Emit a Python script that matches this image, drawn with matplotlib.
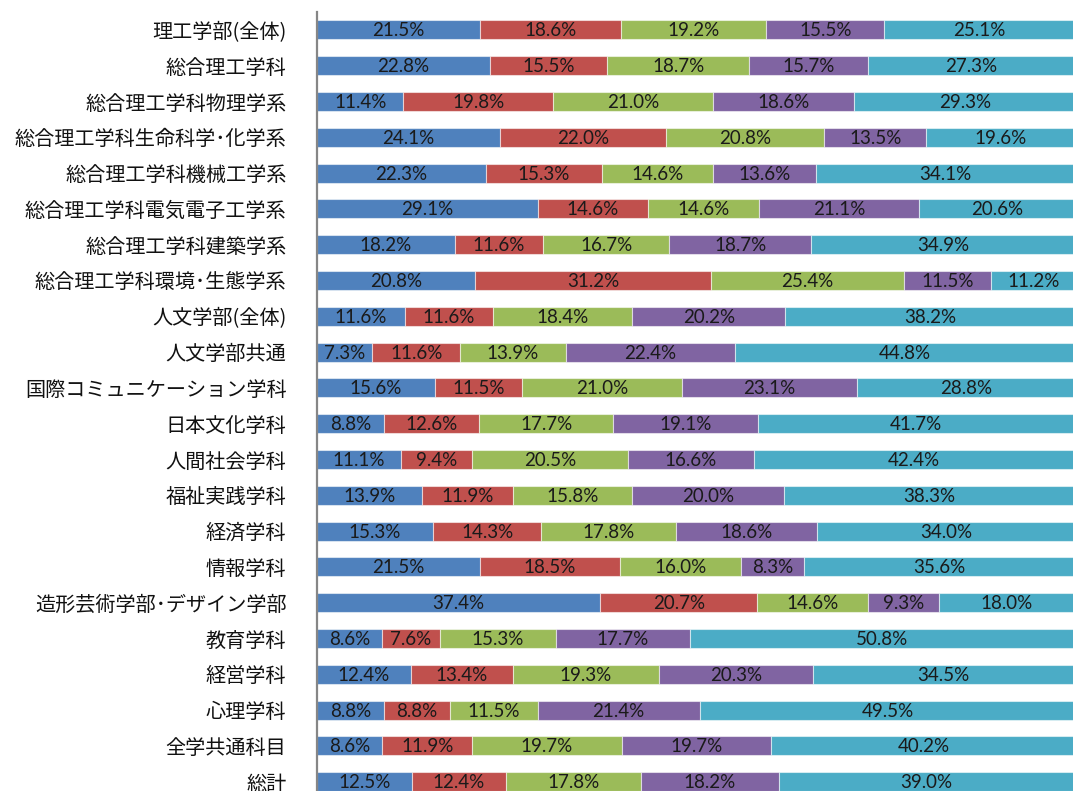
import matplotlib
matplotlib.use("Agg")
import matplotlib.pyplot as plt
import numpy as np

categories = [
    "理工学部(全体)", "総合理工学科", "総合理工学科物理学系", "総合理工学科生命科学･化学系",
    "総合理工学科機械工学系", "総合理工学科電気電子工学系", "総合理工学科建築学系",
    "総合理工学科環境･生態学系", "人文学部(全体)", "人文学部共通", "国際コミュニケーション学科",
    "日本文化学科", "人間社会学科", "福祉実践学科", "経済学科", "情報学科",
    "造形芸術学部･デザイン学部", "教育学科", "経営学科", "心理学科", "全学共通科目", "総計",
]

series_1 = [21.5, 22.8, 11.4, 24.1, 22.3, 29.1, 18.2, 20.8, 11.6, 7.3, 15.6,
            8.8, 11.1, 13.9, 15.3, 21.5, 37.4, 8.6, 12.4, 8.8, 8.6, 12.5]
series_2 = [18.6, 15.5, 19.8, 22.0, 15.3, 14.6, 11.6, 31.2, 11.6, 11.6, 11.5,
            12.6, 9.4, 11.9, 14.3, 18.5, 20.7, 7.6, 13.4, 8.8, 11.9, 12.4]
series_3 = [19.2, 18.7, 21.0, 20.8, 14.6, 14.6, 16.7, 25.4, 18.4, 13.9, 21.0,
            17.7, 20.5, 15.8, 17.8, 16.0, 14.6, 15.3, 19.3, 11.5, 19.7, 17.8]
series_4 = [15.5, 15.7, 18.6, 13.5, 13.6, 21.1, 18.7, 11.5, 20.2, 22.4, 23.1,
            19.1, 16.6, 20.0, 18.6, 8.3, 9.3, 17.7, 20.3, 21.4, 19.7, 18.2]
series_5 = [25.1, 27.3, 29.3, 19.6, 34.1, 20.6, 34.9, 11.2, 38.2, 44.8, 28.8,
            41.7, 42.4, 38.3, 34.0, 35.6, 18.0, 50.8, 34.5, 49.5, 40.2, 39.0]

colors = ["#4F81BD", "#C0504D", "#9BBB59", "#8064A2", "#4BACC6"]

W, H, DPI = 1073, 791, 100
fig = plt.figure(figsize=(W / DPI, H / DPI), dpi=DPI)
fig.patch.set_facecolor("white")

# plot area: top at 12px, one band of ~35.8px per category
left_px, top_px, band_px = 317, 12, 35.8
width_px = 758
height_px = band_px * len(categories)
ax = fig.add_axes([left_px / W, 1 - (top_px + height_px) / H,
                   width_px / W, height_px / H])

y = np.arange(len(categories))
left = np.zeros(len(categories))
for vals, col in zip([series_1, series_2, series_3, series_4, series_5], colors):
    vals = np.array(vals)
    ax.barh(y, vals, left=left, height=0.53, color=col,
            edgecolor=(1, 1, 1, 0.55), linewidth=0.8)
    for yi, (l, v) in enumerate(zip(left, vals)):
        ax.text(l + v / 2, yi + 0.03, f"{v:.1f}%", ha="center", va="center",
                fontsize=13.5, family=["Lato", "DejaVu Sans"], color="#1a1a1a")
    left += vals

ax.set_xlim(0, 100)
ax.set_ylim(len(categories) - 0.5, -0.5)
ax.set_yticks(y)
ax.set_yticklabels(categories, family=["Noto Sans CJK JP", "DejaVu Sans"],
                   fontsize=14.5, color="#111111")
ax.tick_params(axis="y", length=0, pad=22)
ax.set_xticks([])
for side in ["top", "right", "bottom"]:
    ax.spines[side].set_visible(False)
ax.spines["left"].set_color("#868686")
ax.spines["left"].set_linewidth(1.6)

fig.savefig("out.png", dpi=DPI)
